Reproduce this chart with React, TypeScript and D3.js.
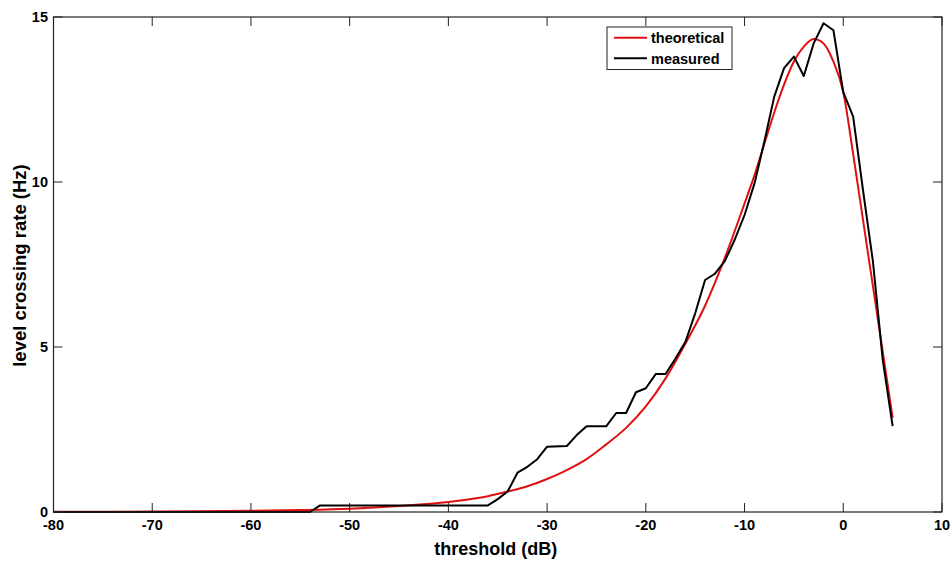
import React from "react";
import * as d3 from "d3";

// threshold (dB) samples
const measuredX = [-80, -54, -53, -36, -35, -34, -33, -32, -31, -30, -28, -27, -26, -24, -23, -22, -21, -20, -19, -18, -17, -16, -15, -14, -13, -12, -11, -10, -9, -8, -7, -6, -5, -4, -3, -2, -1, 0, 1, 2, 3, 4, 5];
const measuredY = [0, 0, 0.2, 0.2, 0.39, 0.62, 1.19, 1.37, 1.6, 1.98, 2.0, 2.33, 2.6, 2.6, 3.0, 3.0, 3.63, 3.75, 4.18, 4.18, 4.65, 5.15, 6.02, 7.03, 7.22, 7.6, 8.25, 9.0, 9.95, 11.22, 12.58, 13.45, 13.8, 13.21, 14.2, 14.81, 14.6, 12.72, 11.98, 9.75, 7.6, 4.6, 2.6];

const theoreticalX = [-80, -70, -60, -55, -50, -45, -40, -38, -36, -34, -32, -30, -28, -26, -24, -22, -20, -18, -16, -14, -12, -10, -9, -8, -7, -6, -5, -4, -3, -2, -1, 0, 1, 2, 3, 4, 5];
const theoreticalY = [0.005, 0.015, 0.035, 0.06, 0.1, 0.18, 0.3, 0.38, 0.48, 0.62, 0.78, 1.0, 1.27, 1.6, 2.05, 2.55, 3.2, 4.05, 5.1, 6.25, 7.7, 9.35, 10.2, 11.15, 12.1, 12.95, 13.65, 14.1, 14.33, 14.2, 13.65, 12.72, 10.85, 8.85, 6.85, 4.85, 2.85];

const xTicks = [-80, -70, -60, -50, -40, -30, -20, -10, 0, 10];
const yTicks = [0, 5, 10, 15];
const legendLabels = ["theoretical", "measured"];

const W = 951;
const H = 561;
const L = 53.5, R = 942, T = 17, B = 512;
const FONT = "'Liberation Sans', Arial, Helvetica, sans-serif";

export default function App() {
  const x = d3.scaleLinear().domain([-80, 10]).range([L, R]);
  const y = d3.scaleLinear().domain([0, 15]).range([B, T]);
  const line = d3.line<[number, number]>().x((d) => x(d[0])).y((d) => y(d[1])).curve(d3.curveLinear);
  const smooth = d3.line<[number, number]>().x((d) => x(d[0])).y((d) => y(d[1])).curve(d3.curveMonotoneX);
  const theo = theoreticalX.map((v, i) => [v, theoreticalY[i]] as [number, number]);
  const meas = measuredX.map((v, i) => [v, measuredY[i]] as [number, number]);
  const tk = 9;
  const lgX = 607, lgY = 27, lgW = 125, lgH = 42.5;
  return (
    <svg width={W} height={H} style={{ position: "absolute", left: 0, top: 0, background: "#fff" }} fontFamily={FONT}>
      <rect x={0} y={0} width={W} height={H} fill="#fff" />
      {/* curves */}
      <path d={smooth(theo) || ""} fill="none" stroke="#e01010" strokeWidth={2} />
      <path d={line(meas) || ""} fill="none" stroke="#000" strokeWidth={2} strokeLinejoin="round" />
      {/* frame */}
      <rect x={L} y={T} width={R - L} height={B - T} fill="none" stroke="#222" strokeWidth={1.2} />
      {xTicks.map((t) => (
        <g key={"x" + t}>
          <line x1={x(t)} x2={x(t)} y1={B} y2={B - tk} stroke="#222" />
          <line x1={x(t)} x2={x(t)} y1={T} y2={T + tk} stroke="#222" />
          <text x={x(t)} y={529.5} textAnchor="middle" fontSize={14.5} fontWeight="bold" fill="#000">{t}</text>
        </g>
      ))}
      {yTicks.map((t) => (
        <g key={"y" + t}>
          <line x1={L} x2={L + tk} y1={y(t)} y2={y(t)} stroke="#222" />
          <line x1={R} x2={R - tk} y1={y(t)} y2={y(t)} stroke="#222" />
          <text x={48} y={y(t)} dy="0.34em" textAnchor="end" fontSize={14.5} fontWeight="bold" fill="#000">{t}</text>
        </g>
      ))}
      {/* axis labels */}
      <text x={(L + R) / 2 - 2} y={555} textAnchor="middle" fontSize={18} fontWeight="bold" fill="#000">threshold (dB)</text>
      <text transform={`translate(26,${(T + B) / 2 + 1}) rotate(-90)`} textAnchor="middle" fontSize={18.5} fontWeight="bold" fill="#000">level crossing rate (Hz)</text>
      {/* legend */}
      <rect x={lgX} y={lgY} width={lgW} height={lgH} fill="#fff" stroke="#222" strokeWidth={1} />
      {legendLabels.map((lab, i) => {
        const ly = 37.7 + i * 20.6;
        return (
          <g key={lab}>
            <line x1={614} x2={647} y1={ly} y2={ly} stroke={i === 0 ? "#e01010" : "#000"} strokeWidth={2} />
            <text x={651} y={ly} dy="0.36em" fontSize={14.5} fontWeight="bold" fill="#000">{lab}</text>
          </g>
        );
      })}
    </svg>
  );
}
